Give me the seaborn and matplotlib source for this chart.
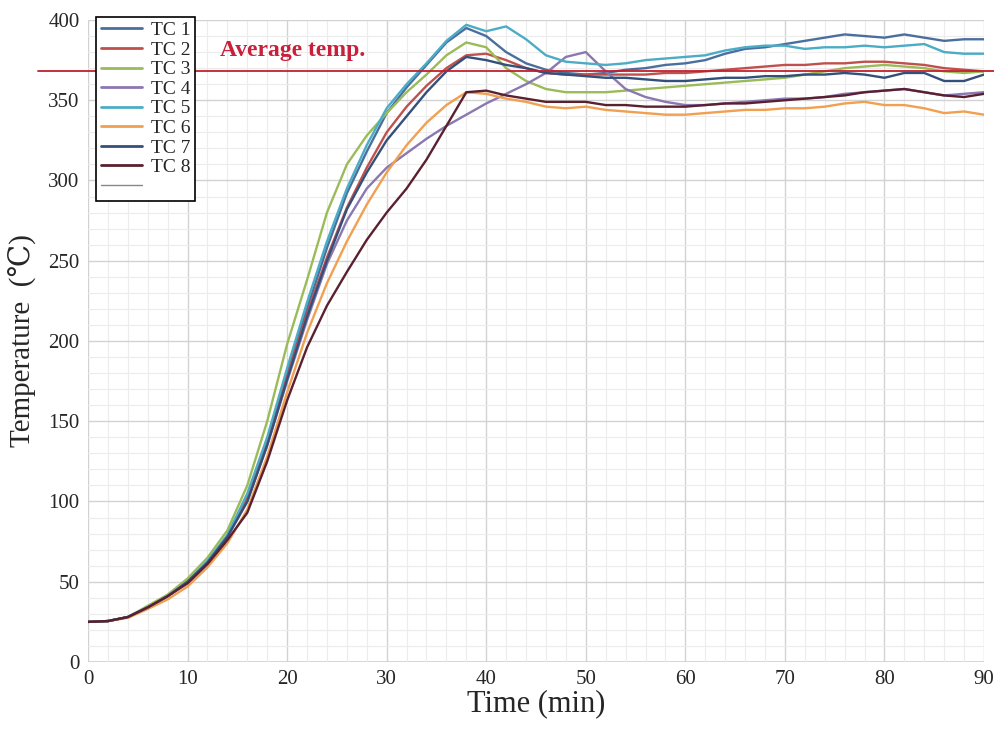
import numpy as np
import pandas as pd
import matplotlib
matplotlib.use("Agg")
import matplotlib.pyplot as plt
from matplotlib.lines import Line2D
from matplotlib.ticker import MultipleLocator
import seaborn as sns

time_min = [0, 2, 4, 6, 8, 10, 12, 14, 16, 18, 20, 22, 24, 26, 28, 30, 32, 34, 36, 38,
            40, 42, 44, 46, 48, 50, 52, 54, 56, 58, 60, 62, 64, 66, 68, 70, 72, 74, 76, 78,
            80, 82, 84, 86, 88, 90]

tc1 = [25, 25.5, 28, 34, 41, 50, 62, 79, 103, 138, 180, 220, 258, 292, 318, 342, 358, 372, 386, 395,
       390, 380, 373, 369, 367, 366, 367, 369, 370, 372, 373, 375, 379, 382, 383, 385, 387, 389, 391, 390,
       389, 391, 389, 387, 388, 388]
tc2 = [25, 25.5, 28, 34, 41, 50, 62, 78, 102, 137, 178, 217, 252, 283, 308, 330, 346, 359, 370, 378,
       379, 375, 370, 367, 366, 366, 366, 366, 366, 367, 367, 368, 369, 370, 371, 372, 372, 373, 373, 374,
       374, 373, 372, 370, 369, 368]
tc3 = [25, 25.5, 28, 35, 42, 52, 65, 82, 110, 150, 198, 238, 280, 310, 328, 342, 355, 366, 378, 386,
       383, 370, 362, 357, 355, 355, 355, 356, 357, 358, 359, 360, 361, 362, 363, 364, 366, 368, 370, 371,
       372, 371, 370, 368, 367, 368]
tc4 = [25, 25.5, 28, 34, 41, 50, 62, 78, 100, 135, 175, 213, 248, 275, 295, 308, 317, 326, 334, 341,
       348, 354, 360, 367, 377, 380, 368, 357, 352, 349, 347, 347, 348, 349, 350, 351, 351, 352, 354, 355,
       356, 357, 355, 353, 354, 355]
tc5 = [25, 25.5, 28, 34, 41, 50, 63, 79, 105, 140, 183, 224, 262, 295, 322, 345, 360, 373, 387, 397,
       393, 396, 388, 378, 374, 373, 372, 373, 375, 376, 377, 378, 381, 383, 384, 384, 382, 383, 383, 384,
       383, 384, 385, 380, 379, 379]
tc6 = [25, 25.5, 27.5, 33, 39, 47, 59, 74, 95, 128, 168, 205, 236, 262, 285, 305, 322, 336, 347, 355,
       354, 351, 349, 346, 345, 346, 344, 343, 342, 341, 341, 342, 343, 344, 344, 345, 345, 346, 348, 349,
       347, 347, 345, 342, 343, 341]
tc7 = [25, 25.5, 28, 34, 41, 50, 62, 78, 100, 135, 176, 215, 250, 282, 305, 325, 340, 355, 368, 377,
       375, 372, 370, 367, 366, 365, 364, 364, 363, 362, 362, 363, 364, 364, 365, 365, 366, 366, 367, 366,
       364, 367, 367, 362, 362, 366]
tc8 = [25, 25.5, 28, 34, 41, 49, 61, 76, 93, 125, 163, 196, 222, 243, 263, 280, 295, 313, 334, 355,
       356, 353, 351, 349, 349, 349, 347, 347, 346, 346, 346, 347, 348, 348, 349, 350, 351, 352, 353, 355,
       356, 357, 355, 353, 352, 354]

series_names = ["TC 1", "TC 2", "TC 3", "TC 4", "TC 5", "TC 6", "TC 7", "TC 8"]
series_values = [tc1, tc2, tc3, tc4, tc5, tc6, tc7, tc8]
average_temp = 368.5

colors = ["#4a6f9e", "#c0504d", "#9bbb59", "#8a78b0", "#4bacc6", "#f0a050", "#34507a", "#5a2030"]

rows = []
for name, vals in zip(series_names, series_values):
    for t, v in zip(time_min, vals):
        rows.append({"Time": t, "Temp": v, "Series": name})
df = pd.DataFrame(rows)

sns.set_theme(style="white")
plt.rcParams["font.family"] = ["Liberation Serif", "DejaVu Serif"]

fig = plt.figure(figsize=(9.94, 7.30), dpi=100)
L, R, B, T = 88 / 994, 984 / 994, (730 - 662) / 730, (730 - 20) / 730
ax = fig.add_axes([L, B, R - L, T - B])

sns.lineplot(data=df, x="Time", y="Temp", hue="Series", palette=colors,
             linewidth=1.7, ax=ax, legend=False)

ax.set_xlim(0, 90)
ax.set_ylim(0, 400)
ax.xaxis.set_major_locator(MultipleLocator(10))
ax.xaxis.set_minor_locator(MultipleLocator(2))
ax.yaxis.set_major_locator(MultipleLocator(50))
ax.yaxis.set_minor_locator(MultipleLocator(10))
ax.grid(which="major", color="#d2d2d2", linewidth=1.0)
ax.grid(which="minor", color="#ececec", linewidth=0.8)
ax.set_axisbelow(True)
for s in ax.spines.values():
    s.set_visible(False)
ax.axhline(0, color="#cfcfcf", linewidth=1.2, zorder=0)
ax.axvline(0, color="#cfcfcf", linewidth=1.2, zorder=0)
ax.tick_params(which="both", length=0, labelsize=15, pad=6)

ax.set_xlabel("Time (min)", fontsize=22, labelpad=0)
ax.set_ylabel("Temperature  (\u2103)", fontsize=21, labelpad=8)

ax.axhline(average_temp, xmin=-0.056, xmax=1.02, color="#c0202e", linewidth=1.3,
           clip_on=False, zorder=5)
ax.text(13.3, 381, "Average temp.", color="#c8203a", fontsize=17, fontweight="bold",
        va="center", ha="left")

handles = [Line2D([], [], color=c, linewidth=2.0) for c in colors]
handles.append(Line2D([], [], color="#888888", linewidth=1.0))
labels = series_names + [" "]
leg = ax.legend(handles, labels, loc="upper left", bbox_to_anchor=(0.009, 1.005),
                fontsize=14, frameon=True, fancybox=False, framealpha=1,
                edgecolor="black", handlelength=2.1, handletextpad=0.45,
                labelspacing=0.1, borderpad=0.25, borderaxespad=0)
leg.get_frame().set_linewidth(1.2)
leg.set_zorder(10)

fig.savefig("out.png", dpi=100)
